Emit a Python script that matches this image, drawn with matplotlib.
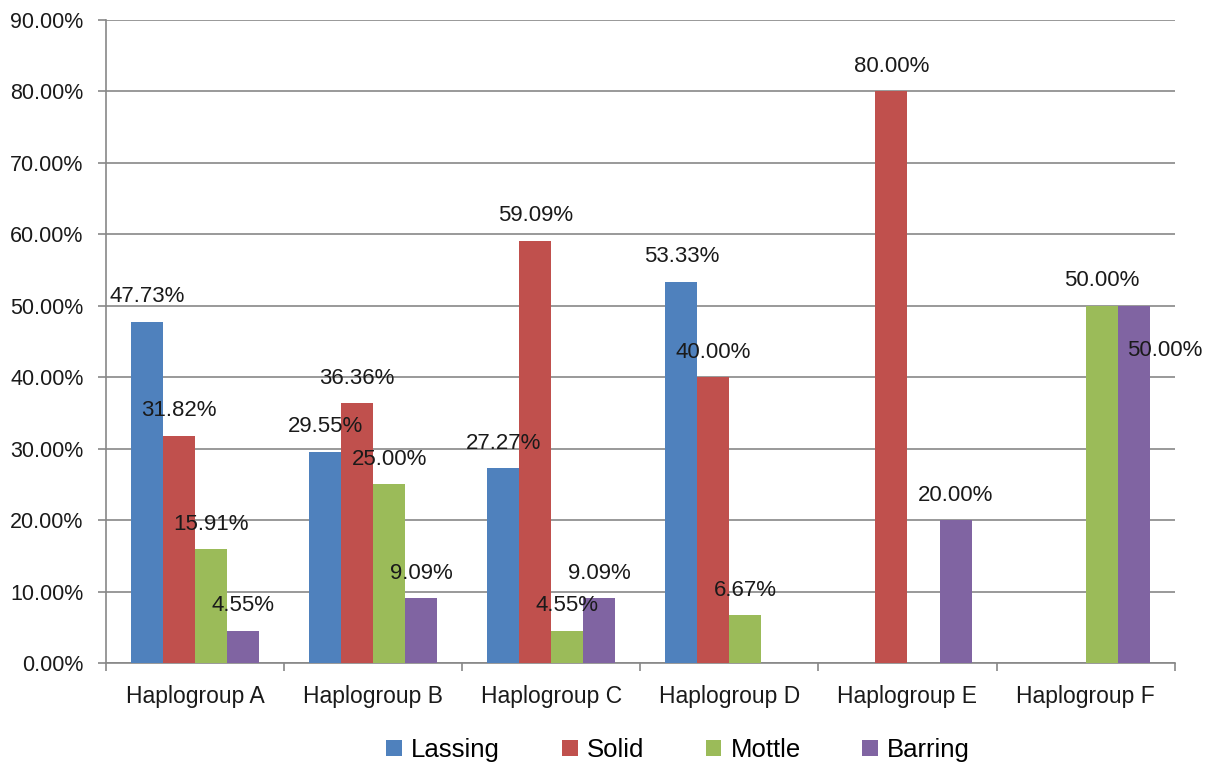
import matplotlib
matplotlib.use('Agg')
import matplotlib.pyplot as plt
import numpy as np

# datos
groups = ['Haplogroup A', 'Haplogroup B', 'Haplogroup C',
          'Haplogroup D', 'Haplogroup E', 'Haplogroup F']
lassing = [47.73, 29.55, 27.27, 53.33, 0, 0]
solid = [31.82, 36.36, 59.09, 40.00, 80.00, 0]
mottle = [15.91, 25.00, 4.55, 6.67, 0, 50.00]
barring = [4.55, 9.09, 9.09, 0, 20.00, 50.00]

series = ['Lassing', 'Solid', 'Mottle', 'Barring']
colors = ['#4F81BD', '#C0504D', '#9BBB59', '#8064A2']

plt.rcParams['font.family'] = ['Liberation Sans', 'DejaVu Sans']

fig = plt.figure(figsize=(12.11, 7.65), dpi=100)
ax = fig.add_axes([0.0875, 0.1333, 0.8825, 0.8406])

x = np.arange(len(groups))
w = 0.18
grid_c = '#878787'

for k, (name, vals) in enumerate(zip(series, [lassing, solid, mottle, barring])):
    pos = x + (k - 1.5) * w
    ax.bar(pos, vals, width=w, color=colors[k], label=name, zorder=3)
    for j, (px, v) in enumerate(zip(pos, vals)):
        if v == 0:
            continue
        off = (0, 18)
        # etiqueta desplazada como en el original
        if name == 'Barring' and j == 5:
            off = (22, -32)
        ax.annotate(f'{v:.2f}%', (px, v), xytext=off, textcoords='offset points',
                    ha='center', va='center', fontsize=16, color='#1a1a1a', zorder=5)

ax.set_xlim(-0.5, len(groups) - 0.5)
ax.set_ylim(0, 90)
ax.set_yticks(np.arange(0, 91, 10))
ax.set_yticklabels([f'{t:.2f}%' for t in np.arange(0, 91, 10)])
ax.yaxis.grid(True, color=grid_c, linewidth=1.2, zorder=0)
ax.set_axisbelow(True)

ax.set_xticks(x)
ax.set_xticklabels(groups)
ax.set_xticks(np.arange(-0.5, len(groups), 1), minor=True)
ax.tick_params(axis='x', which='major', length=0, pad=16, labelsize=16.5, colors='#1a1a1a')
ax.tick_params(axis='x', which='minor', length=5.5, width=1.2, color=grid_c)
ax.tick_params(axis='y', length=6, width=1.2, color=grid_c, pad=10, labelsize=15.5, labelcolor='#1a1a1a')

for s in ['top', 'right']:
    ax.spines[s].set_visible(False)
for s in ['left', 'bottom']:
    ax.spines[s].set_color(grid_c)
    ax.spines[s].set_linewidth(1.2)

fig.legend(loc='center', bbox_to_anchor=(0.56, 0.0196), ncol=4, frameon=False,
           fontsize=18.5, handlelength=0.62, handleheight=0.62, handletextpad=0.35,
           columnspacing=2.4, borderpad=0, borderaxespad=0)

fig.savefig('out.png', dpi=100)
